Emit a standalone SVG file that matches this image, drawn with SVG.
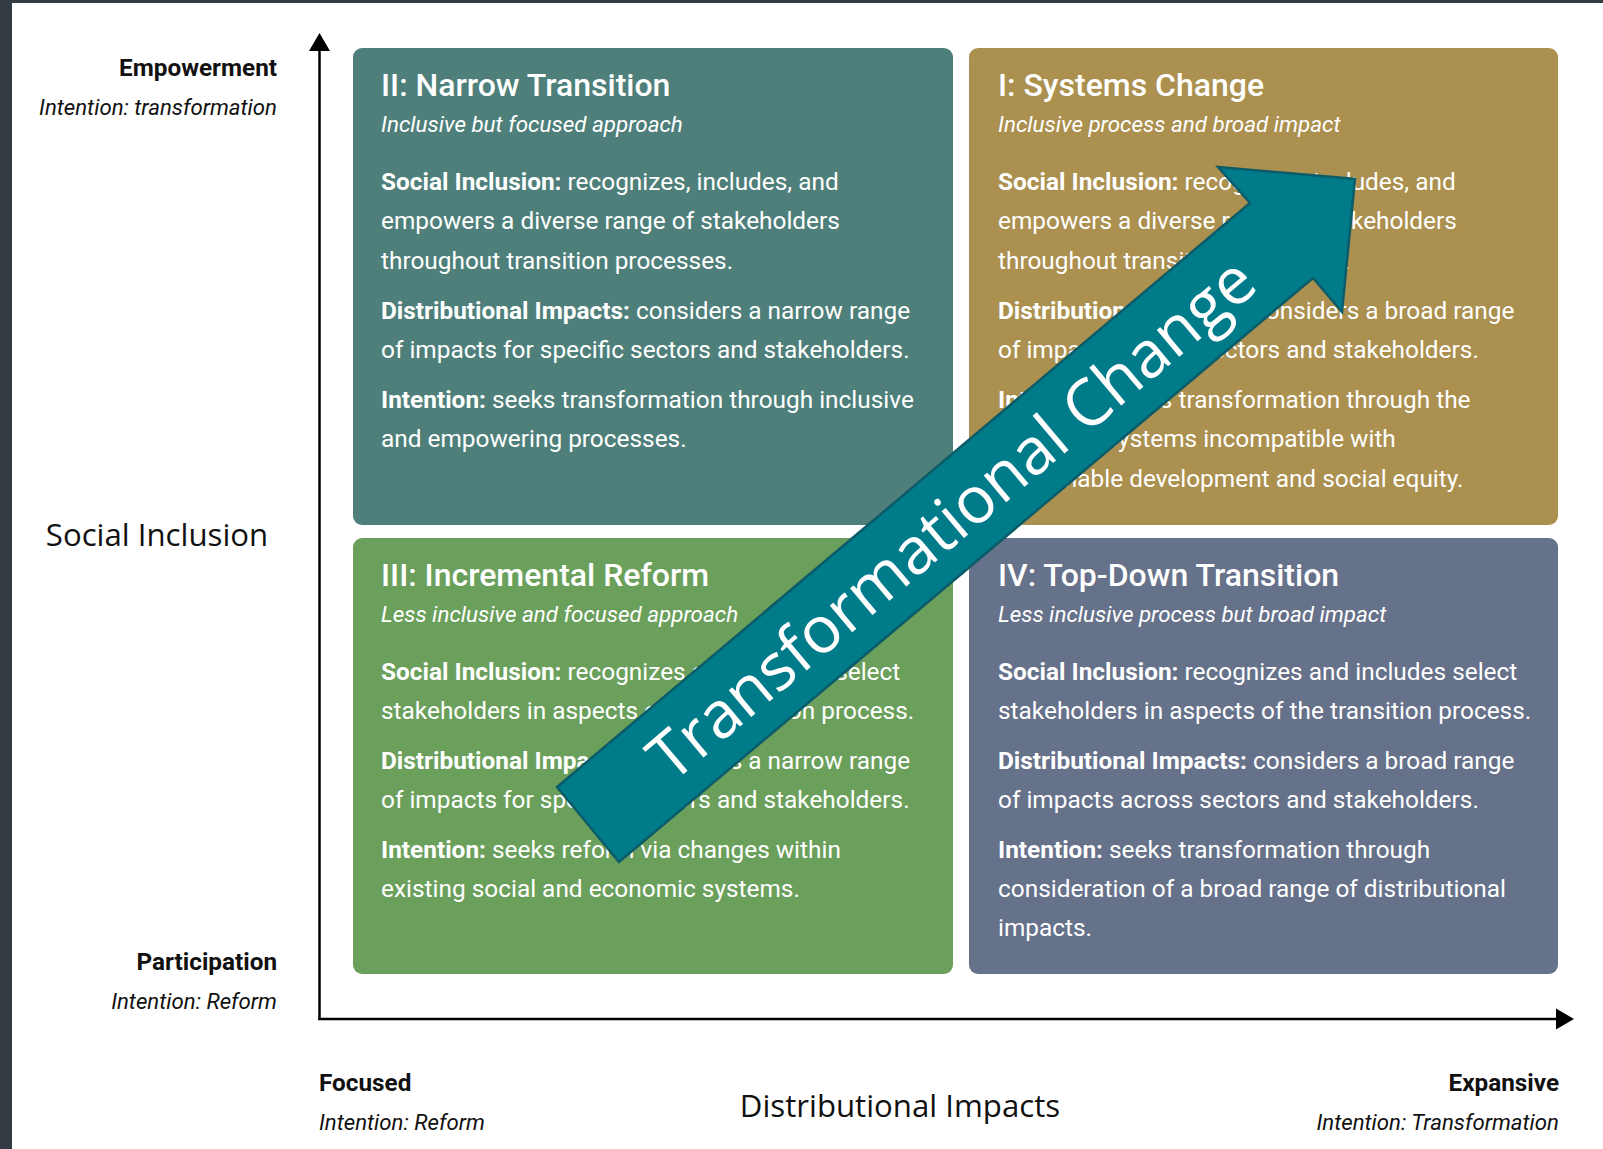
<svg xmlns="http://www.w3.org/2000/svg" width="1603" height="1149" viewBox="0 0 1603 1149">
<defs>
<style>
.lbl-b{font-family:Roboto,"Liberation Sans",sans-serif;font-weight:700;font-size:24.3px;fill:#111;}
.lbl-i{font-family:Roboto,"Liberation Sans",sans-serif;font-style:italic;font-size:22.2px;fill:#111;}
.axis-t{font-family:"Open Sans","Liberation Sans",sans-serif;font-size:31.2px;fill:#111;}
.title{font-family:Roboto,"Liberation Sans",sans-serif;font-weight:500;font-size:32px;fill:#fff;}
.sub{font-family:Roboto,"Liberation Sans",sans-serif;font-style:italic;font-size:22.4px;fill:#fff;}
.body{font-family:Roboto,"Liberation Sans",sans-serif;font-size:24.4px;fill:#fff;}
.body .b{font-weight:700;}
.axis{stroke:#000;stroke-width:2.5;fill:none;}
.big{font-family:"Open Sans","Liberation Sans",sans-serif;font-size:65px;fill:#fff;}
</style>
</defs>
<rect x="0" y="0" width="1603" height="1149" fill="#fff"/>
<rect x="0" y="0" width="12" height="1149" fill="#343c43"/>
<rect x="0" y="0" width="1603" height="3" fill="#343c43"/>

<g id="axes">
<line class="axis" x1="319.5" y1="1019" x2="319.5" y2="50"/>
<polygon points="319.5,33 309,51 330,51" fill="#000"/>
<line class="axis" x1="318" y1="1019" x2="1557" y2="1019"/>
<polygon points="1574,1019 1556,1008.5 1556,1029.5" fill="#000"/>
</g>

<g id="y-labels">
<text class="lbl-b" x="277" y="76" text-anchor="end">Empowerment</text>
<text class="lbl-i" x="277" y="115" text-anchor="end">Intention: transformation</text>
<text class="axis-t" x="157" y="546" text-anchor="middle">Social Inclusion</text>
<text class="lbl-b" x="277" y="970" text-anchor="end">Participation</text>
<text class="lbl-i" x="277" y="1009" text-anchor="end">Intention: Reform</text>
</g>
<g id="x-labels">
<text class="lbl-b" x="319" y="1091">Focused</text>
<text class="lbl-i" x="319" y="1130">Intention: Reform</text>
<text class="axis-t" x="900" y="1117" text-anchor="middle">Distributional Impacts</text>
<text class="lbl-b" x="1559" y="1091" text-anchor="end">Expansive</text>
<text class="lbl-i" x="1559" y="1130" text-anchor="end">Intention: Transformation</text>
</g>

<g id="q2">
<rect x="353" y="48" width="600" height="477" rx="9" fill="#4e7f7a"/>
<text class="title" x="381" y="96">II: Narrow Transition</text>
<text class="sub" x="381" y="132">Inclusive but focused approach</text>
<text class="body">
<tspan x="381" y="190"><tspan class="b">Social Inclusion:</tspan> recognizes, includes, and</tspan>
<tspan x="381" y="229">empowers a diverse range of stakeholders</tspan>
<tspan x="381" y="269">throughout transition processes.</tspan>
<tspan x="381" y="319"><tspan class="b">Distributional Impacts:</tspan> considers a narrow range</tspan>
<tspan x="381" y="358">of impacts for specific sectors and stakeholders.</tspan>
<tspan x="381" y="408"><tspan class="b">Intention:</tspan> seeks transformation through inclusive</tspan>
<tspan x="381" y="447">and empowering processes.</tspan>
</text>
</g>

<g id="q1">
<rect x="969" y="48" width="589" height="477" rx="9" fill="#ab904f"/>
<text class="title" x="998" y="96">I: Systems Change</text>
<text class="sub" x="998" y="132">Inclusive process and broad impact</text>
<text class="body">
<tspan x="998" y="190"><tspan class="b">Social Inclusion:</tspan> recognizes, includes, and</tspan>
<tspan x="998" y="229">empowers a diverse range of stakeholders</tspan>
<tspan x="998" y="269">throughout transition processes.</tspan>
<tspan x="998" y="319"><tspan class="b">Distributional Impacts:</tspan> considers a broad range</tspan>
<tspan x="998" y="358">of impacts across sectors and stakeholders.</tspan>
<tspan x="998" y="408"><tspan class="b">Intention:</tspan> seeks transformation through the</tspan>
<tspan x="998" y="447">reform of systems incompatible with</tspan>
<tspan x="998" y="487">sustainable development and social equity.</tspan>
</text>
</g>

<g id="q3">
<rect x="353" y="538" width="600" height="436" rx="9" fill="#6b9f5c"/>
<text class="title" x="381" y="586">III: Incremental Reform</text>
<text class="sub" x="381" y="622">Less inclusive and focused approach</text>
<text class="body">
<tspan x="381" y="680"><tspan class="b">Social Inclusion:</tspan> recognizes and includes select</tspan>
<tspan x="381" y="719">stakeholders in aspects of the transition process.</tspan>
<tspan x="381" y="769"><tspan class="b">Distributional Impacts:</tspan> considers a narrow range</tspan>
<tspan x="381" y="808">of impacts for specific sectors and stakeholders.</tspan>
<tspan x="381" y="858"><tspan class="b">Intention:</tspan> seeks reform via changes within</tspan>
<tspan x="381" y="897">existing social and economic systems.</tspan>
</text>
</g>

<g id="q4">
<rect x="969" y="538" width="589" height="436" rx="9" fill="#66718a"/>
<text class="title" x="998" y="586">IV: Top-Down Transition</text>
<text class="sub" x="998" y="622">Less inclusive process but broad impact</text>
<text class="body">
<tspan x="998" y="680"><tspan class="b">Social Inclusion:</tspan> recognizes and includes select</tspan>
<tspan x="998" y="719">stakeholders in aspects of the transition process.</tspan>
<tspan x="998" y="769"><tspan class="b">Distributional Impacts:</tspan> considers a broad range</tspan>
<tspan x="998" y="808">of impacts across sectors and stakeholders.</tspan>
<tspan x="998" y="858"><tspan class="b">Intention:</tspan> seeks transformation through</tspan>
<tspan x="998" y="897">consideration of a broad range of distributional</tspan>
<tspan x="998" y="936">impacts.</tspan>
</text>
</g>

<g id="transformational-change">
<polygon points="557,787 1250,203 1218,167 1355,179 1342,312 1313,278 619,862" fill="#007b8a" stroke="#0b5c68" stroke-width="2.5" stroke-linejoin="miter"/>
<text class="big" transform="translate(588,824.5) rotate(-40.1)" x="475" y="23" text-anchor="middle">Transformational Change</text>
</g>
</svg>
